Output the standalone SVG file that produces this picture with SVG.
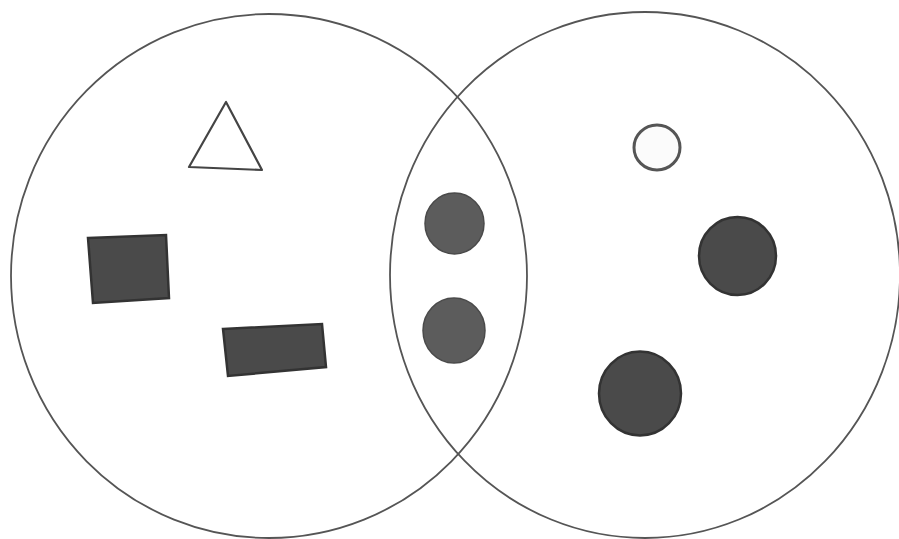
<svg xmlns="http://www.w3.org/2000/svg" width="899" height="539" viewBox="0 0 899 539">
<style>
.set{fill:none;stroke:#555;stroke-width:1.8}
.solid{fill:#5c5c5c;stroke:#4a4a4a;stroke-width:1.5}
.hatch{fill:#4a4a4a;stroke:#333;stroke-width:2.5}
.ring{fill:#fbfbfb;stroke:#555;stroke-width:3}
</style>
<rect width="899" height="539" fill="#fff"/>
<g id="connectors"/>
<g id="set-left"><ellipse class="set" cx="269" cy="276" rx="258" ry="262"/></g>
<g id="set-right"><ellipse class="set" cx="645" cy="275" rx="255" ry="263"/></g>
<g id="triangle"><polygon points="226,102 189,167 262,170" fill="none" stroke="#444" stroke-width="2.2" stroke-linejoin="round"/></g>
<g id="rect-1"><polygon class="hatch" points="88,238 166,235 169,298 93,303"/></g>
<g id="rect-2"><polygon class="hatch" points="223,329 322,324 326,367 228,376"/></g>
<g id="mid-circle-1"><ellipse class="solid" cx="454.5" cy="223.5" rx="29.5" ry="30.5"/></g>
<g id="mid-circle-2"><ellipse class="solid" cx="454" cy="330.5" rx="31" ry="32.5"/></g>
<g id="small-circle"><ellipse class="ring" cx="657" cy="147.5" rx="23" ry="22.5"/></g>
<g id="right-circle-1"><ellipse class="hatch" cx="737.5" cy="256" rx="38.5" ry="39"/></g>
<g id="right-circle-2"><ellipse class="hatch" cx="640" cy="393.5" rx="41" ry="42"/></g>
</svg>
